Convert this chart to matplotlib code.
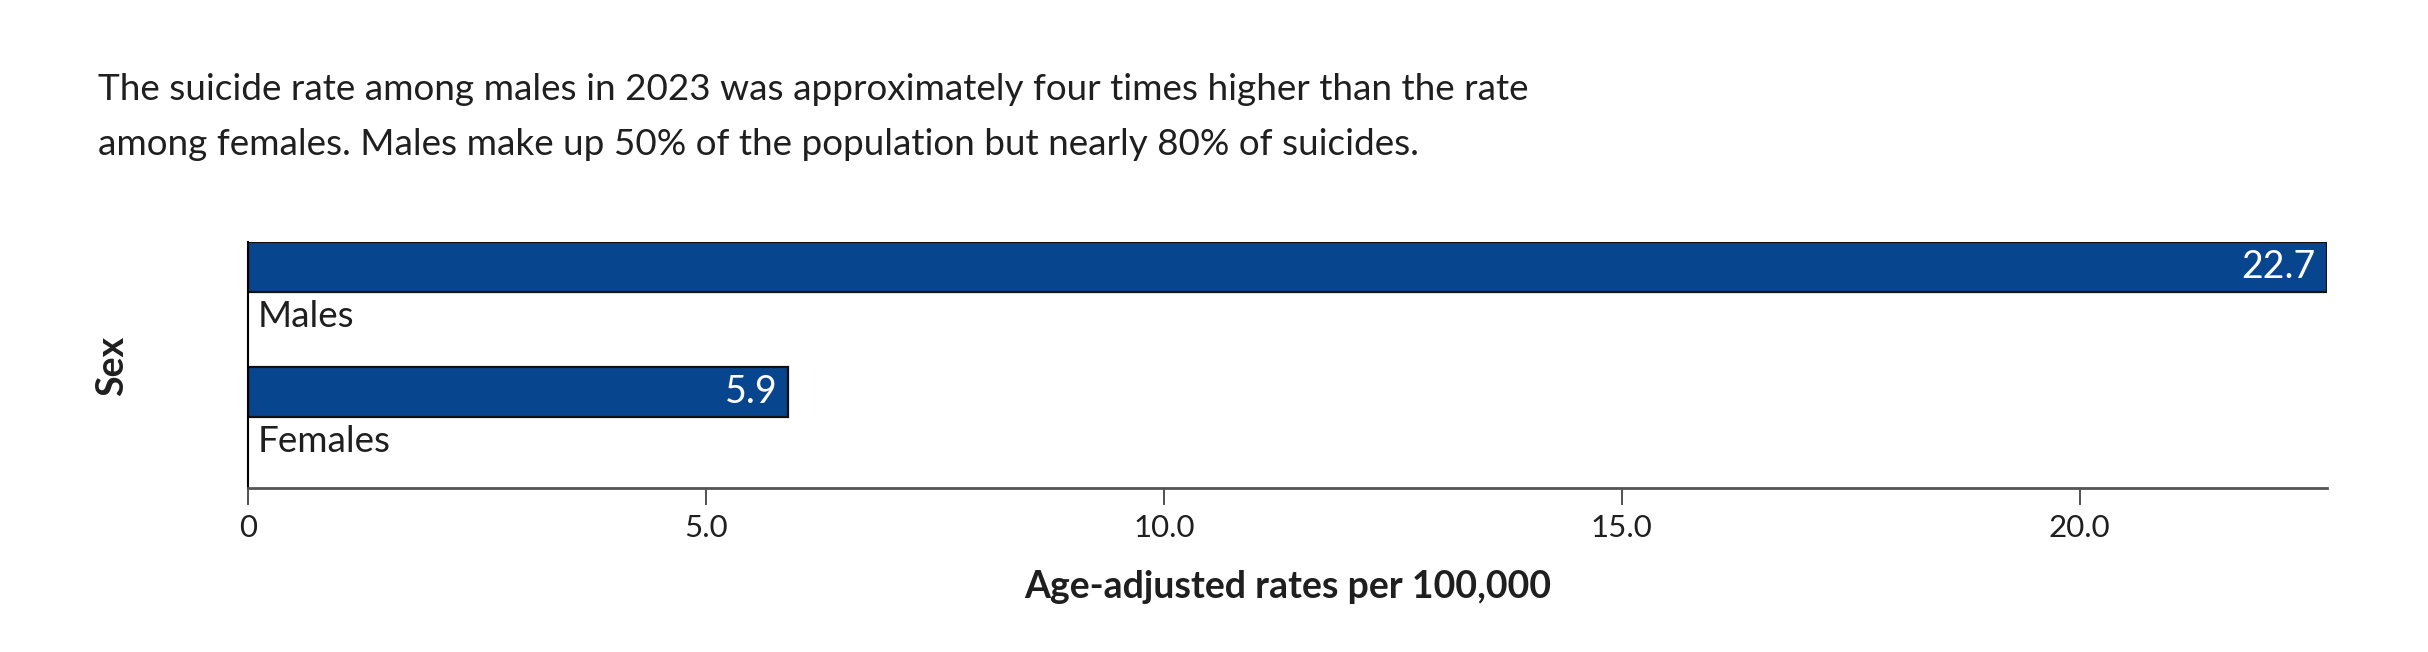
import matplotlib.pyplot as plt

# data
sexes = ["Males", "Females"]
rates = [22.7, 5.9]
tick_values = [0, 5, 10, 15, 20]
tick_labels = ["0", "5.0", "10.0", "15.0", "20.0"]

title = ("The suicide rate among males in 2023 was approximately four times higher than the rate\n"
         "among females. Males make up 50% of the population but nearly 80% of suicides.")

plt.rcParams['font.family'] = ['Lato', 'DejaVu Sans']
text_color = "#1f1f1f"

W, H = 2428, 652
fig = plt.figure(figsize=(W / 100, H / 100), dpi=100)

# axes placed in pixel terms
left, right, top, bottom = 248, 2327, 242, 488
ax = fig.add_axes([left / W, 1 - bottom / H, (right - left) / W, (bottom - top) / H])

bar_color = "#08458f"
positions = list(range(len(sexes)))
ax.barh(positions, rates, height=0.4, color=bar_color, edgecolor="#111111", linewidth=1.6)

for pos, name, val in zip(positions, sexes, rates):
    # value inside the bar, right aligned
    ax.annotate(f"{val:.1f}", xy=(val, pos), xytext=(-8, 0), textcoords="offset points",
                ha="right", va="center", color="white", fontsize=27)
    # category label under the bar
    ax.annotate(name, xy=(0, pos + 0.2), xytext=(7, -6), textcoords="offset points",
                ha="left", va="top", color=text_color, fontsize=26.5)

ax.set_xlim(0, max(rates))
ax.set_ylim(1.772, -0.2)

ax.set_xticks(tick_values)
ax.set_xticklabels(tick_labels, fontsize=22.5, color=text_color)
ax.tick_params(axis="x", length=12, width=1.2, color="#333333", pad=7)
ax.set_yticks([])

for side in ["top", "right"]:
    ax.spines[side].set_visible(False)
ax.spines["left"].set_color("black")
ax.spines["left"].set_linewidth(1.5)
ax.spines["bottom"].set_color("#555555")
ax.spines["bottom"].set_linewidth(2)

ax.set_xlabel("Age-adjusted rates per 100,000", fontsize=27, fontweight="bold",
              labelpad=20, color=text_color)
fig.text(112 / W, 1 - 366 / H, "Sex", rotation=90, fontsize=27, fontweight="bold",
         ha="center", va="center", color=text_color)

fig.text(98 / W, 1 - 117 / H, title, fontsize=26.6, ha="left", va="center",
         linespacing=1.78, color=text_color)

fig.savefig("out.png", dpi=100)
